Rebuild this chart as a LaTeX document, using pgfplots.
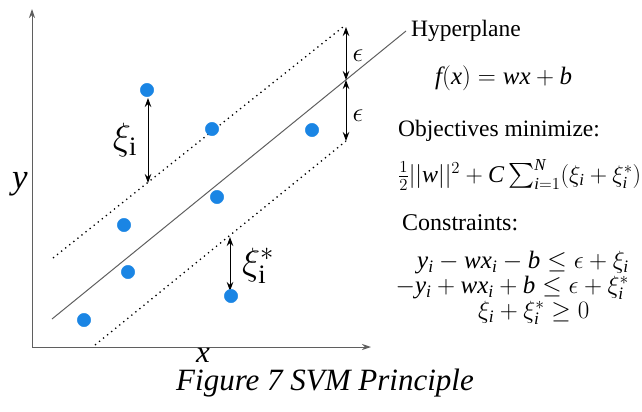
\RequirePackage{fix-cm}
\documentclass[border=0pt]{standalone}
\usepackage{exscale}
\usepackage{pgfplots}
\pgfplotsset{compat=1.18}
\usepackage{fontspec}
\setmainfont{Liberation Serif}
\usetikzlibrary{arrows.meta}
\definecolor{pointblue}{RGB}{26,133,228}
\definecolor{linegray}{RGB}{95,95,95}

\newcommand\fsz[1]{\fontsize{#1bp}{1.15\dimexpr#1bp\relax}\selectfont}
% Latin letters of the formulas in the serif italic
\newcommand\mi[1]{\mathit{#1}}

\begin{document}
\begin{tikzpicture}
\begin{axis}[
  width=642bp, height=412bp, scale only axis,
  xmin=0, xmax=642, ymin=0, ymax=412, y dir=reverse,
  hide axis, clip=false,
]
% coordinate axes of the sketch
\draw[linegray, line width=1bp, -{Stealth[length=9bp,width=6bp]}]
  (axis cs:32,347) -- (axis cs:32,9);
\draw[linegray, line width=1bp, -{Stealth[length=9bp,width=6bp]}]
  (axis cs:32,347) -- (axis cs:371,347);
\node[font=\fsz{35}, inner sep=0pt] at (axis cs:20,184) {$\mi{y}$};
\node[font=\fsz{31}, inner sep=0pt] at (axis cs:203,355) {$\mi{x}$};

% regression hyperplane and the epsilon tube
\addplot[linegray, line width=1bp] coordinates {(52,319) (406,31)};
\addplot[black, line width=1.3bp, dash pattern=on 1.3bp off 3.9bp]
  coordinates {(53,258) (343,27)};
\addplot[black, line width=1.3bp, dash pattern=on 1.3bp off 3.9bp]
  coordinates {(95,345) (346,141)};

% samples
\addplot[only marks, mark=*, mark size=6.7bp, color=pointblue,
  mark options={draw=pointblue, fill=pointblue}] coordinates {
  (147,90) (212,129) (312,130) (217,197)
  (124,225) (128,272) (231,296) (84,320)
};

% slack and margin arrows
\tikzset{dbl/.style={black, line width=1bp,
  {Stealth[length=9bp,width=6.5bp]}-{Stealth[length=9bp,width=6.5bp]}}}
\draw[dbl] (axis cs:148,98) -- (axis cs:148,183);
\draw[dbl] (axis cs:230,237) -- (axis cs:230,291);
\draw[dbl] (axis cs:346,27) -- (axis cs:346,80);
\draw[dbl] (axis cs:346,80) -- (axis cs:346,141);

\node[font=\fsz{38}] at (axis cs:125,140) {$\xi_{\mathrm{i}}$};
\node[font=\fsz{38}] at (axis cs:258,266) {$\xi_{\mathrm{i}}^{*}$};
\node[font=\fsz{27}] at (axis cs:358,56) {$\epsilon$};
\node[font=\fsz{27}] at (axis cs:358,116) {$\epsilon$};

% right-hand annotations
\node[font=\fsz{23.5}, anchor=base west, inner sep=0pt] at (axis cs:411,36) {Hyperplane};
\node[font=\fsz{25}, anchor=west, inner sep=0pt] at (axis cs:435,78)
  {$\mi{f}(\mi{x})=\mi{wx}+\mi{b}$};
\node[font=\fsz{23.5}, anchor=west, inner sep=0pt] at (axis cs:398,131) {Objectives minimize:};
\node[font=\fsz{24}, anchor=west, inner sep=0pt] at (axis cs:398,175)
  {$\frac{1}{2}||\mi{w}||^2+\mi{C}\sum_{\mi{i}=1}^{\mi{N}}(\xi_{\mi{i}}+\xi_{\mi{i}}^{*})$};
\node[font=\fsz{24}, anchor=west, inner sep=0pt] at (axis cs:402,223) {Constraints:};
\node[font=\fsz{25}, anchor=east, inner sep=0pt] at (axis cs:629,263)
  {$\mi{y}_{\mi{i}}-\mi{wx}_{\mi{i}}-\mi{b}\le\epsilon+\xi_{\mi{i}}$};
\node[font=\fsz{25}, anchor=east, inner sep=0pt] at (axis cs:629,288)
  {$-\mi{y}_{\mi{i}}+\mi{wx}_{\mi{i}}+\mi{b}\le\epsilon+\xi_{\mi{i}}^{*}$};
\node[font=\fsz{25}, anchor=west, inner sep=0pt] at (axis cs:478,313)
  {$\xi_{\mi{i}}+\xi_{\mi{i}}^{*}\ge 0$};

% caption
\node[font=\fsz{31}\itshape] at (axis cs:325,383) {Figure 7 SVM Principle};
\end{axis}
\pgfresetboundingbox
\path[use as bounding box] (0,0) rectangle (642bp,412bp);
\end{tikzpicture}
\end{document}
